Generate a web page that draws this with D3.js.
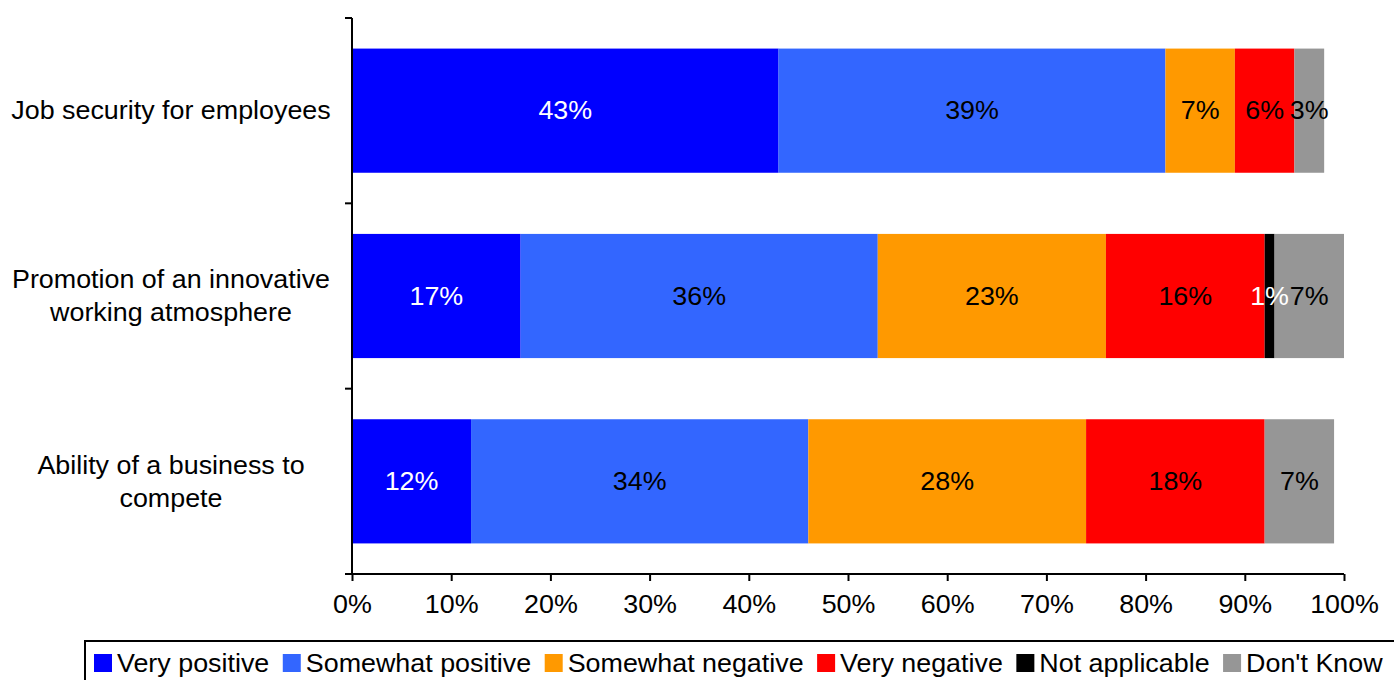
<!DOCTYPE html>
<html><head><meta charset="utf-8">
<script src="https://cdn.jsdelivr.net/npm/d3@7"></script>
<style>body{margin:0;background:#fff;} svg{display:block;font-family:"Liberation Sans",Arial,sans-serif;}</style>
</head><body>
<svg id="chart" width="1394" height="680"></svg>
<script>
const categories = ["Job security for employees", "Promotion of an innovative working atmosphere", "Ability of a business to compete"];
const categoryLines = [["Job security for employees"], ["Promotion of an innovative", "working atmosphere"], ["Ability of a business to", "compete"]];
const seriesNames = ["Very positive", "Somewhat positive", "Somewhat negative", "Very negative", "Not applicable", "Don't Know"];
const veryPositive = [43, 17, 12];
const somewhatPositive = [39, 36, 34];
const somewhatNegative = [7, 23, 28];
const veryNegative = [6, 16, 18];
const notApplicable = [0, 1, 0];
const dontKnow = [3, 7, 7];
const colors = ["#0000FF", "#3366FF", "#FF9900", "#FF0000", "#000000", "#969696"];
const labelColors = ["#fff", "#000", "#000", "#000", "#fff", "#000"];
const xTicks = [0,10,20,30,40,50,60,70,80,90,100];

const seriesValues = [veryPositive, somewhatPositive, somewhatNegative, veryNegative, notApplicable, dontKnow];
const rows = categories.map((c, i) => {
  const o = {cat: c};
  seriesNames.forEach((s, j) => o[s] = seriesValues[j][i]);
  return o;
});

const svg = d3.select("#chart");
const m = {left: 352, top: 18, right: 50, bottom: 106};
const W = 1344 - m.left, H = 574 - m.top;
const g = svg.append("g").attr("transform", `translate(${m.left},${m.top})`);
const x = d3.scaleLinear().domain([0, 100]).range([0, W]);
const y = d3.scaleBand().domain(categories).range([0, H]).paddingInner(0.33).paddingOuter(0.165);
const FS = 25;
const SX = 1.075;

function label(parent, tx, ty, str, opts) {
  const t = parent.append("text")
    .attr("transform", `translate(${tx},${ty}) scale(${SX},1)`)
    .attr("text-anchor", opts.anchor || "middle").attr("dominant-baseline", "central")
    .attr("font-size", FS).attr("fill", opts.fill || "#000").text(str);
  return t;
}

const stack = d3.stack().keys(seriesNames)(rows);
stack.forEach((layer, j) => {
  const lg = g.append("g");
  layer.forEach((d, i) => {
    const v = d[1] - d[0];
    if (v <= 0) return;
    lg.append("rect")
      .attr("x", x(d[0])).attr("y", y(categories[i]))
      .attr("width", x(d[1]) - x(d[0])).attr("height", y.bandwidth())
      .attr("fill", colors[j]);
  });
});
stack.forEach((layer, j) => {
  layer.forEach((d, i) => {
    const v = d[1] - d[0];
    if (v <= 0) return;
    label(g, (x(d[0]) + x(d[1])) / 2, y(categories[i]) + y.bandwidth() / 2, v + "%", {fill: labelColors[j]});
  });
});

// Y axis
g.append("line").attr("x1", 0).attr("x2", 0).attr("y1", 0).attr("y2", H).attr("stroke", "#000").attr("stroke-width", 2);
[0, 1, 2, 3].forEach(i => {
  const yy = H * i / 3;
  g.append("line").attr("x1", -7).attr("x2", 0).attr("y1", yy).attr("y2", yy).attr("stroke", "#000").attr("stroke-width", 2);
});
categoryLines.forEach((lines, i) => {
  const cy = y(categories[i]) + y.bandwidth() / 2;
  const lh = 33;
  lines.forEach((t, k) => {
    label(g, 171 - m.left, cy + (k - (lines.length - 1) / 2) * lh, t, {});
  });
});

// X axis
const xa = g.append("g").attr("transform", `translate(0,${H})`)
  .call(d3.axisBottom(x).tickValues(xTicks).tickSize(7).tickSizeOuter(0).tickPadding(14).tickFormat(d => d + "%"));
xa.select(".domain").attr("stroke-width", 2).attr("d", `M-7,0H${W}`);
xa.selectAll(".tick line").attr("stroke-width", 2);
xa.selectAll("text").attr("font-size", FS).attr("font-family", "Liberation Sans, Arial, sans-serif").attr("fill", "#000")
  .attr("transform", `scale(${SX},1)`);

// Legend
const leg = svg.append("g");
leg.append("rect").attr("x", 85).attr("y", 641).attr("width", 1340).attr("height", 60)
  .attr("fill", "none").attr("stroke", "#000").attr("stroke-width", 2);
let lx = 94;
const ly = 663;
seriesNames.forEach((s, j) => {
  leg.append("rect").attr("x", lx).attr("y", ly - 9).attr("width", 18).attr("height", 18).attr("fill", colors[j]);
  const t = label(leg, lx + 23, ly, s, {anchor: "start"});
  const w = t.node().getComputedTextLength() * SX;
  lx = lx + 23 + w + 13.5;
});
</script>
</body></html>
